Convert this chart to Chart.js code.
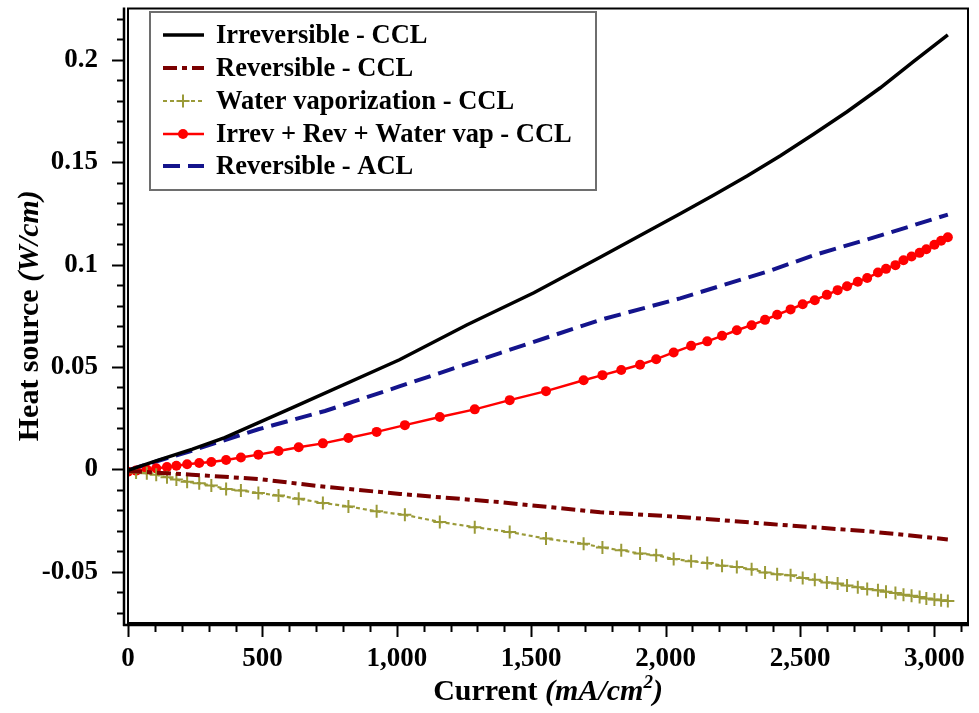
<!DOCTYPE html>
<html>
<head>
<meta charset="utf-8">
<script src="https://cdn.jsdelivr.net/npm/chart.js@4.4.1/dist/chart.umd.min.js"></script>
<style>
  html, body { margin: 0; padding: 0; background: #fff; }
  #wrap { width: 979px; height: 713px; }
</style>
</head>
<body>
<div id="wrap"><canvas id="heatChart" width="979" height="713"></canvas></div>
<script>
// current density (mA/cm2) where the marked series were sampled
const currentMarked = [0, 30, 70, 105, 145, 180, 220, 265, 310, 365, 420, 485, 560, 635, 725, 820, 925, 1030, 1160, 1290,
  1420, 1555, 1695, 1765, 1835, 1905, 1965, 2030, 2095, 2155, 2210, 2265, 2320, 2370, 2415, 2465, 2510, 2555, 2600, 2640,
  2675, 2715, 2750, 2790, 2820, 2855, 2885, 2915, 2945, 2970, 3000, 3025, 3050];

const totalCCL = [-0.0012, -0.0006, -0.0001, 0.0005, 0.0011, 0.0018, 0.0025, 0.0031, 0.0036, 0.0046, 0.0058, 0.0072, 0.009,
  0.0108, 0.0127, 0.0153, 0.0183, 0.0216, 0.0256, 0.0293, 0.0338, 0.0382, 0.0435, 0.046, 0.0485, 0.0511, 0.0538, 0.0571,
  0.0603, 0.0625, 0.0652, 0.0679, 0.0704, 0.073, 0.0755, 0.0781, 0.0806, 0.0826, 0.0852, 0.0875, 0.0894, 0.0916, 0.0934,
  0.0961, 0.0979, 0.0997, 0.1021, 0.1039, 0.1057, 0.1075, 0.1097, 0.1116, 0.1133];

const waterVapCCL = [-0.0012, -0.0015, -0.0019, -0.0026, -0.0039, -0.005, -0.006, -0.0068, -0.0079, -0.0096, -0.0103, -0.0115,
  -0.0128, -0.0144, -0.0164, -0.0181, -0.0205, -0.0222, -0.0257, -0.0282, -0.0306, -0.0338, -0.0363, -0.0382, -0.0395, -0.0411,
  -0.0419, -0.0437, -0.0448, -0.0457, -0.047, -0.0476, -0.0488, -0.0503, -0.0512, -0.0517, -0.053, -0.0539, -0.0552, -0.0557,
  -0.0567, -0.0575, -0.0584, -0.059, -0.0597, -0.0604, -0.0612, -0.0617, -0.0623, -0.063, -0.0635, -0.0639, -0.0642];

const currentIrr = [0, 110, 240, 360, 610, 1010, 1260, 1510, 1760, 2054, 2178, 2303, 2427, 2550, 2675, 2799, 2923, 3050];
const irrevCCL = [-0.0005, 0.0044, 0.0099, 0.0155, 0.030, 0.0535, 0.0705, 0.0862, 0.1038, 0.1248, 0.1338, 0.1432, 0.1531,
  0.1636, 0.1746, 0.1863, 0.1992, 0.2121];

const currentRevA = [0, 113, 237, 485, 733, 1012, 1384, 1757, 2054, 2389, 2550, 2800, 3050];
const revACL = [-0.0005, 0.0042, 0.0091, 0.0196, 0.0285, 0.0406, 0.0568, 0.073, 0.0835, 0.097, 0.1045, 0.1142, 0.1244];

const currentRevC = [0, 237, 485, 733, 1012, 1384, 1757, 2054, 2389, 2761, 3050];
const revCCL = [-0.0008, -0.0026, -0.0047, -0.0085, -0.012, -0.016, -0.0209, -0.0232, -0.0267, -0.0303, -0.0342];

const xTicks = [0, 500, 1000, 1500, 2000, 2500, 3000];
const xTickLabels = ["0", "500", "1,000", "1,500", "2,000", "2,500", "3,000"];
const yTicks = [-0.05, 0, 0.05, 0.1, 0.15, 0.2];
const yTickLabels = ["-0.05", "0", "0.05", "0.1", "0.15", "0.2"];

const SERIF = '"Liberation Serif", "Times New Roman", serif';
const pts = (xs, ys) => xs.map((x, i) => ({ x: x, y: ys[i] }));

// frame, minor/major ticks, axis titles and legend box
const framePlugin = {
  id: 'frame',
  afterDraw(chart) {
    const { ctx, chartArea: a, scales: { x, y } } = chart;
    ctx.save();
    ctx.strokeStyle = '#000';
    ctx.lineWidth = 2;
    ctx.strokeRect(a.left, a.top, a.right - a.left, a.bottom - a.top);
    ctx.lineWidth = 2.5;
    ctx.beginPath();
    ctx.moveTo(a.left - 4, a.top - 1);
    ctx.lineTo(a.left - 4, a.bottom + 3);
    ctx.moveTo(a.left - 5, a.bottom + 2);
    ctx.lineTo(a.right + 1, a.bottom + 2);
    ctx.stroke();

    // ticks
    ctx.lineWidth = 2;
    ctx.beginPath();
    for (let v = -70; v <= 220; v += 10) {
      const py = Math.round(y.getPixelForValue(v / 1000)) + 0.5;
      const len = v % 50 === 0 ? 12 : 7;
      ctx.moveTo(a.left - 4, py);
      ctx.lineTo(a.left - 4 - len, py);
    }
    for (let v = 0; v <= 3100; v += 100) {
      const px = Math.round(x.getPixelForValue(v)) + 0.5;
      const len = v % 500 === 0 ? 12 : 7;
      ctx.moveTo(px, a.bottom + 2);
      ctx.lineTo(px, a.bottom + 2 + len);
    }
    ctx.stroke();

    // axis titles
    ctx.fillStyle = '#000';
    ctx.textBaseline = 'alphabetic';
    const parts = (list) => list.map(p => { ctx.font = p.f; return Object.assign({ w: ctx.measureText(p.t).width }, p); });
    const drawParts = (list, cx, base) => {
      const total = list.reduce((s, p) => s + p.w, 0);
      let cur = cx - total / 2;
      list.forEach(p => { ctx.font = p.f; ctx.fillText(p.t, cur, base + (p.dy || 0)); cur += p.w; });
    };
    const b = 'bold 30px ' + SERIF, bi = 'italic bold 30px ' + SERIF, sup = 'italic bold 19px ' + SERIF;
    drawParts(parts([
      { t: 'Current ', f: b }, { t: '(mA/cm', f: bi }, { t: '2', f: sup, dy: -12 }, { t: ')', f: bi }
    ]), (a.left + a.right) / 2, 700);
    ctx.save();
    ctx.translate(38, (a.top + a.bottom) / 2);
    ctx.rotate(-Math.PI / 2);
    drawParts(parts([{ t: 'Heat source ', f: b }, { t: '(W/cm)', f: bi }]), 0, 0);
    ctx.restore();

    // legend
    const lx = 150, ly = 12, lw = 446, lh = 178;
    ctx.fillStyle = '#fff';
    ctx.fillRect(lx, ly, lw, lh);
    ctx.strokeStyle = '#6e6e6e';
    ctx.lineWidth = 2;
    ctx.strokeRect(lx, ly, lw, lh);
    const rowY = [35, 68, 101, 134, 166];
    chart.data.datasets.forEach((ds, i) => {
      const yy = rowY[i];
      ctx.save();
      ctx.strokeStyle = ds.borderColor;
      ctx.lineWidth = ds.borderWidth;
      ctx.setLineDash(ds.borderDash || []);
      ctx.beginPath();
      ctx.moveTo(163, yy);
      ctx.lineTo(204, yy);
      ctx.stroke();
      ctx.setLineDash([]);
      if (ds.pointRadius > 0) {
        ctx.fillStyle = ds.pointBackgroundColor;
        ctx.strokeStyle = ds.pointBorderColor;
        ctx.lineWidth = ds.pointBorderWidth;
        ctx.beginPath();
        if (ds.pointStyle === 'circle') {
          ctx.arc(183, yy, ds.pointRadius, 0, Math.PI * 2);
          ctx.fill();
        } else {
          ctx.moveTo(183 - ds.pointRadius, yy); ctx.lineTo(183 + ds.pointRadius, yy);
          ctx.moveTo(183, yy - ds.pointRadius); ctx.lineTo(183, yy + ds.pointRadius);
          ctx.stroke();
        }
      }
      ctx.restore();
      ctx.fillStyle = '#000';
      ctx.font = 'bold 26.5px ' + SERIF;
      ctx.textBaseline = 'middle';
      ctx.fillText(ds.label, 216, yy + 1);
    });
    ctx.restore();
  }
};

const ctx = document.getElementById('heatChart').getContext('2d');

new Chart(ctx, {
  type: 'line',
  data: {
    datasets: [
      {
        label: 'Irreversible - CCL',
        data: pts(currentIrr, irrevCCL),
        borderColor: '#000000',
        borderWidth: 3.5,
        pointRadius: 0
      },
      {
        label: 'Reversible - CCL',
        data: pts(currentRevC, revCCL),
        borderColor: '#7a0000',
        borderWidth: 4,
        borderDash: [14, 5, 5, 5],
        pointRadius: 0
      },
      {
        label: 'Water vaporization - CCL',
        data: pts(currentMarked, waterVapCCL),
        borderColor: '#9a9a38',
        borderWidth: 2.2,
        borderDash: [4, 3],
        pointStyle: 'cross',
        pointRadius: 6.5,
        pointBorderWidth: 2,
        pointBorderColor: '#9a9a38',
        pointBackgroundColor: '#9a9a38'
      },
      {
        label: 'Irrev + Rev + Water vap - CCL',
        data: pts(currentMarked, totalCCL),
        borderColor: '#ff0000',
        borderWidth: 2.5,
        pointStyle: 'circle',
        pointRadius: 5,
        pointBorderWidth: 0,
        pointBorderColor: '#ff0000',
        pointBackgroundColor: '#ff0000'
      },
      {
        label: 'Reversible - ACL',
        data: pts(currentRevA, revACL),
        borderColor: '#14148c',
        borderWidth: 4,
        borderDash: [17, 8],
        pointRadius: 0
      }
    ]
  },
  options: {
    responsive: false,
    animation: false,
    devicePixelRatio: 1,
    layout: { padding: { top: 3, right: 11, left: 0, bottom: 0 } },
    plugins: {
      legend: { display: false },
      tooltip: { enabled: false }
    },
    elements: { line: { tension: 0 } },
    scales: {
      x: {
        type: 'linear',
        min: 0,
        max: 3125,
        grid: { display: false },
        border: { display: false },
        afterBuildTicks: axis => { axis.ticks = xTicks.map(v => ({ value: v })); },
        afterFit: axis => { axis.height = 90; axis.paddingLeft = 0; axis.paddingRight = 0; },
        ticks: {
          autoSkip: false,
          maxRotation: 0,
          padding: 12,
          color: '#000',
          font: { family: SERIF, size: 27, weight: 'bold' },
          callback: (v, i) => xTickLabels[i]
        }
      },
      y: {
        type: 'linear',
        min: -0.075,
        max: 0.225,
        grid: { display: false },
        border: { display: false },
        afterBuildTicks: axis => { axis.ticks = yTicks.map(v => ({ value: v })); },
        afterFit: axis => { axis.width = 128; axis.paddingTop = 0; axis.paddingBottom = 0; },
        ticks: {
          padding: 22,
          color: '#000',
          font: { family: SERIF, size: 27, weight: 'bold' },
          callback: (v, i) => yTickLabels[i]
        }
      }
    }
  },
  plugins: [framePlugin]
});
</script>
</body>
</html>
